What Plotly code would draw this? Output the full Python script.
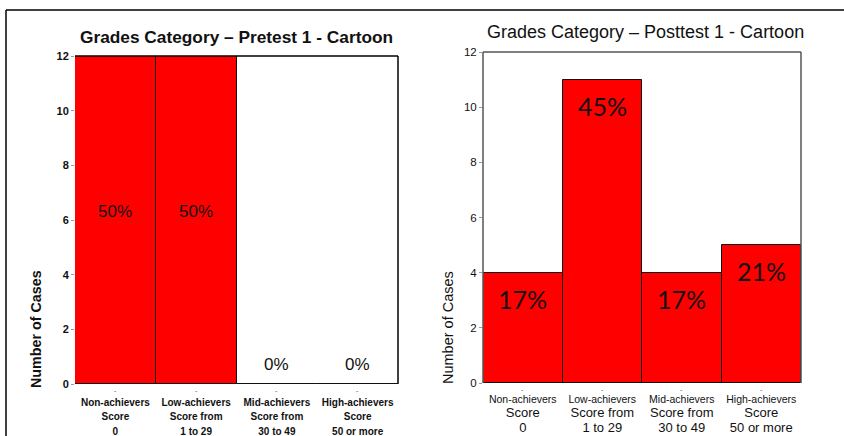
import plotly.graph_objects as go

# Grade bands and counts of cases for each test
categories = ["Non-achievers", "Low-achievers", "Mid-achievers", "High-achievers"]
score_line1 = ["Score", "Score from", "Score from", "Score"]
score_line2 = ["0", "1 to 29", "30 to 49", "50 or more"]
pretest_counts = [12, 12, 0, 0]
posttest_counts = [4, 11, 4, 5]
pretest_labels = ["50%", "50%", "0%", "0%"]
posttest_labels = ["17%", "45%", "17%", "21%"]
y_ticks = [0, 2, 4, 6, 8, 10, 12]

W, H = 844, 436


def px(x):
    return x / W


def py(y):
    return 1 - y / H


FONT = "Liberation Sans, Arial, sans-serif"
PCT_FONT = "Lato, Open Sans, sans-serif"

left_ticktext = [
    f"<span style='font-size:10px'><b>{c}</b><br><b>{a}</b><br><b>{b}</b></span>"
    for c, a, b in zip(categories, score_line1, score_line2)
]
right_ticktext = [
    f"<span style='font-size:10.5px'>{c}</span><br>"
    f"<span style='font-size:13px'>{a}</span><br><span style='font-size:13px'>{b}</span>"
    for c, a, b in zip(categories, score_line1, score_line2)
]

fig = go.Figure()
fig.add_trace(go.Bar(
    x=categories, y=pretest_counts, xaxis="x", yaxis="y",
    marker=dict(color="#ff0000", line=dict(color="#111111", width=1)),
    hoverinfo="x+y", showlegend=False,
))
fig.add_trace(go.Bar(
    x=categories, y=posttest_counts, xaxis="x2", yaxis="y2",
    marker=dict(color="#ff0000", line=dict(color="#111111", width=1)),
    hoverinfo="x+y", showlegend=False,
))

annotations = []
# percentage labels, pretest: centred in the bar, or just above the axis for empty bars
for c, v, t in zip(categories, pretest_counts, pretest_labels):
    if v > 0:
        annotations.append(dict(x=c, y=v / 2, xref="x", yref="y", text=t, showarrow=False,
                                yanchor="middle", yshift=9,
                                font=dict(family=FONT, size=17, color="#111111")))
    else:
        annotations.append(dict(x=c, y=v, xref="x", yref="y", text=t, showarrow=False,
                                yanchor="bottom", yshift=8,
                                font=dict(family=FONT, size=17, color="#111111")))
# percentage labels, posttest: just inside the top of each bar
for c, v, t in zip(categories, posttest_counts, posttest_labels):
    annotations.append(dict(x=c, y=v, xref="x2", yref="y2", text=t, showarrow=False,
                            yanchor="top", yshift=-9,
                            font=dict(family=PCT_FONT, size=25, color="#111111")))
# small dash marks under each category
for xr, yr in (("x", "y"), ("x2", "y2")):
    for c in categories:
        annotations.append(dict(x=c, y=0, xref=xr, yref=yr, text="-", showarrow=False,
                                yanchor="top", yshift=-1,
                                font=dict(family=FONT, size=7, color="#555555")))

# chart titles
annotations.append(dict(x=px(236), y=py(37), xref="paper", yref="paper", showarrow=False,
                        xanchor="center", yanchor="middle",
                        text="<b>Grades Category – Pretest 1 - Cartoon</b>",
                        font=dict(family=FONT, size=17.3, color="#111111")))
annotations.append(dict(x=px(645), y=py(32), xref="paper", yref="paper", showarrow=False,
                        xanchor="center", yanchor="middle",
                        text="Grades Category – Posttest 1 - Cartoon",
                        font=dict(family=FONT, size=18, color="#111111")))
# y axis titles
annotations.append(dict(x=px(36), y=py(329), xref="paper", yref="paper", showarrow=False,
                        xanchor="center", yanchor="middle",
                        text="<b>Number of Cases</b>", textangle=-90,
                        font=dict(family=FONT, size=14.3, color="#111111")))
annotations.append(dict(x=px(448), y=py(328), xref="paper", yref="paper", showarrow=False,
                        xanchor="center", yanchor="middle",
                        text="Number of Cases", textangle=-90,
                        font=dict(family=FONT, size=14.5, color="#111111")))

shapes = [
    # outer frame lines
    dict(type="line", xref="paper", yref="paper", x0=px(6), x1=px(6), y0=0, y1=py(10),
         line=dict(color="#000000", width=1.5)),
    dict(type="line", xref="paper", yref="paper", x0=px(6), x1=1, y0=py(10), y1=py(10),
         line=dict(color="#000000", width=1.5)),
    # pretest plot border (top and right)
    dict(type="line", xref="x domain", yref="y domain", x0=0, x1=1, y0=1, y1=1,
         line=dict(color="#000000", width=1.5)),
    dict(type="line", xref="x domain", yref="y domain", x0=1, x1=1, y0=0, y1=1,
         line=dict(color="#000000", width=1.5)),
    # posttest plot border (left, top and right)
    dict(type="line", xref="x2 domain", yref="y2 domain", x0=0, x1=1, y0=1, y1=1,
         line=dict(color="#555555", width=1.5)),
    dict(type="line", xref="x2 domain", yref="y2 domain", x0=1, x1=1, y0=0, y1=1,
         line=dict(color="#555555", width=1.5)),
    dict(type="line", xref="x2 domain", yref="y2 domain", x0=0, x1=0, y0=0, y1=1,
         line=dict(color="#555555", width=1.5)),
]

common_y = dict(range=[0, 12], tickvals=y_ticks, ticks="outside", ticklen=3, tickwidth=1,
                tickcolor="#999999", showgrid=False, zeroline=False, showline=False,
                automargin=False, fixedrange=True)
common_x = dict(range=[-0.5, 3.5], showgrid=False, zeroline=False, showline=False,
                ticks="", automargin=False, tickangle=0, fixedrange=True)

fig.update_layout(
    width=W, height=H,
    margin=dict(l=0, r=0, t=0, b=0),
    paper_bgcolor="white", plot_bgcolor="white",
    template="none",
    bargap=0,
    xaxis=dict(domain=[px(75), px(398)], anchor="y", tickvals=categories, ticktext=left_ticktext,
               tickfont=dict(family=FONT, size=11, color="#111111"), ticklabelstandoff=10,
               **common_x),
    yaxis=dict(domain=[py(384), py(56)], anchor="x",
               tickfont=dict(family=FONT, size=11, color="#111111", weight="bold"), **common_y),
    xaxis2=dict(domain=[px(483), px(801)], anchor="y2", tickvals=categories,
                ticktext=right_ticktext,
                tickfont=dict(family=FONT, size=11.5, color="#111111"), ticklabelstandoff=7,
                **common_x),
    yaxis2=dict(domain=[py(383), py(52)], anchor="x2",
                tickfont=dict(family=FONT, size=11.5, color="#111111"), **common_y),
    annotations=annotations,
    shapes=shapes,
)

fig.write_html("out.html")
